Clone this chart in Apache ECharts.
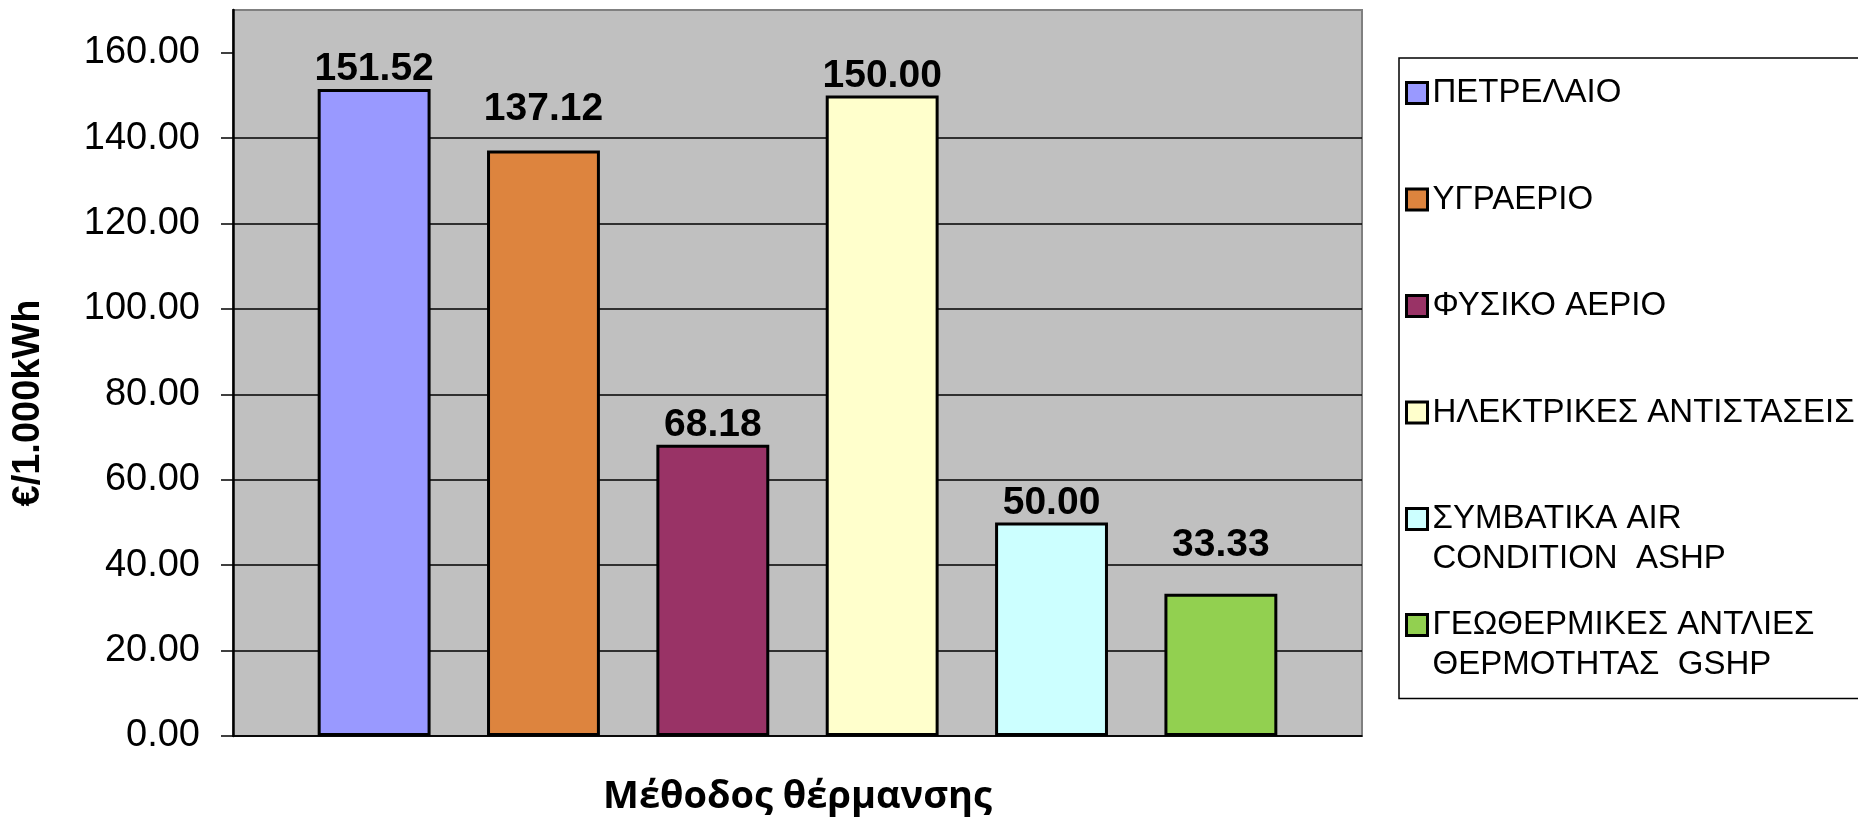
<!DOCTYPE html>
<html>
<head>
<meta charset="utf-8">
<script src="https://cdn.jsdelivr.net/npm/echarts@6/dist/echarts.min.js"></script>
<style>
html,body{margin:0;padding:0;background:#fff;}
#chart{width:1858px;height:826px;}
</style>
</head>
<body>
<div id="chart"></div>
<script>
// ---- data ----
const seriesNames = [
  'ΠΕΤΡΕΛΑΙΟ',
  'ΥΓΡΑΕΡΙΟ',
  'ΦΥΣΙΚΟ ΑΕΡΙΟ',
  'ΗΛΕΚΤΡΙΚΕΣ ΑΝΤΙΣΤΑΣΕΙΣ',
  'ΣΥΜΒΑΤΙΚΑ AIR CONDITION  ASHP',
  'ΓΕΩΘΕΡΜΙΚΕΣ ΑΝΤΛΙΕΣ ΘΕΡΜΟΤΗΤΑΣ  GSHP'
];
const legendLines = {
  'ΣΥΜΒΑΤΙΚΑ AIR CONDITION  ASHP': ['ΣΥΜΒΑΤΙΚΑ AIR', 'CONDITION  ASHP'],
  'ΓΕΩΘΕΡΜΙΚΕΣ ΑΝΤΛΙΕΣ ΘΕΡΜΟΤΗΤΑΣ  GSHP': ['ΓΕΩΘΕΡΜΙΚΕΣ ΑΝΤΛΙΕΣ', 'ΘΕΡΜΟΤΗΤΑΣ  GSHP']
};
const values = [151.52, 137.12, 68.18, 150.00, 50.00, 33.33];
const colors = ['#9999FF', '#DD843E', '#993366', '#FFFFCC', '#CCFFFF', '#92D050'];
const categories = [''];
const yTicks = [0, 20, 40, 60, 80, 100, 120, 140, 160];
const yMax = 170;
const yTitle = '€/1.000kWh';
const xTitle = 'Μέθοδος θέρμανσης';
// label offsets (manual placement in original)
const labelDistances = [0, 22, 0, 0, 0, 29];

const FONT = 'Liberation Sans, Arial, sans-serif';

const chart = echarts.init(document.getElementById('chart'), null, {renderer: 'canvas'});

const series = seriesNames.map((name, i) => ({
  name: name,
  type: 'bar',
  data: [values[i]],
  barWidth: '10%',
  barGap: '50%',
  itemStyle: {color: colors[i], borderColor: '#000', borderWidth: 3},
  label: {
    show: true,
    position: 'top',
    distance: labelDistances[i],
    fontFamily: FONT,
    fontSize: 39,
    fontWeight: 'bold',
    color: '#000',
    formatter: p => p.value.toFixed(2)
  },
  emphasis: {disabled: true}
}));

const legendCommon = {
  orient: 'vertical',
  left: 1399,
  itemWidth: 21,
  itemHeight: 21,
  selectedMode: false,
  icon: 'rect',
  itemStyle: {borderColor: '#000', borderWidth: 3},
  textStyle: {fontFamily: FONT, fontSize: 33, color: '#000', lineHeight: 40}
};

const option = {
  backgroundColor: '#fff',
  animation: false,
  grid: {
    left: 233, right: 496, top: 10, bottom: 90,
    show: true, backgroundColor: '#C0C0C0', borderColor: '#808080', borderWidth: 2
  },
  legend: [
    Object.assign({}, legendCommon, {
      top: 58,
      padding: [15, 40, 266, 6],
      itemGap: 66.5,
      borderColor: '#000',
      borderWidth: 1.5,
      data: seriesNames.slice(0, 4)
    }),
    Object.assign({}, legendCommon, {
      top: 459,
      padding: [0, 0, 0, 6],
      data: [seriesNames[4]],
      formatter: n => '\n' + legendLines[n].join('\n')
    }),
    Object.assign({}, legendCommon, {
      top: 565,
      padding: [0, 0, 0, 6],
      data: [seriesNames[5]],
      formatter: n => '\n' + legendLines[n].join('\n')
    })
  ],
  xAxis: {
    type: 'category',
    data: categories,
    name: xTitle,
    nameLocation: 'middle',
    nameGap: 42,
    nameTextStyle: {fontFamily: 'Open Sans, Noto Sans, sans-serif', fontSize: 38, fontWeight: 'bold', color: '#000'},
    axisLine: {show: true, lineStyle: {color: '#000', width: 1.5}},
    axisTick: {show: false},
    axisLabel: {show: false},
    splitLine: {show: false}
  },
  yAxis: {
    type: 'value',
    min: 0,
    max: yMax,
    interval: 20,
    name: yTitle,
    nameLocation: 'middle',
    nameRotate: 90,
    nameGap: 185,
    nameTextStyle: {fontFamily: FONT, fontSize: 38, fontWeight: 'bold', color: '#000', padding: [0, 60, 0, 0]},
    axisLine: {show: true, lineStyle: {color: '#000', width: 2.5}},
    axisTick: {show: true, length: 12, lineStyle: {color: '#000', width: 1.5}, customValues: yTicks},
    axisLabel: {
      show: true, margin: 33, fontFamily: FONT, fontSize: 38, color: '#000',
      customValues: yTicks,
      formatter: v => v.toFixed(2)
    },
    splitLine: {show: true, showMaxLine: false, lineStyle: {color: '#000', width: 1.5}}
  },
  series: series
};

chart.setOption(option);
</script>
</body>
</html>
